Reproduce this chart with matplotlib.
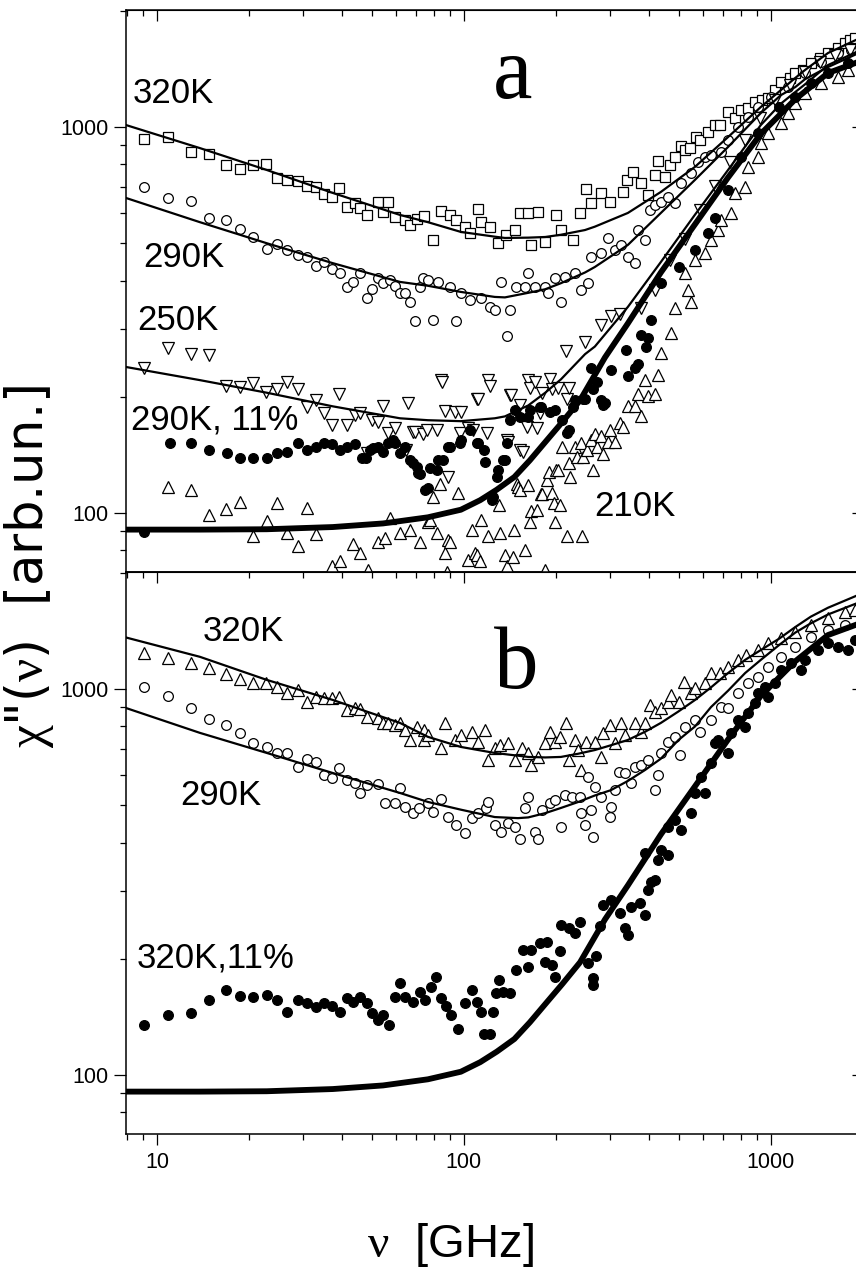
import matplotlib
matplotlib.use('Agg')
import matplotlib.pyplot as plt
from matplotlib.ticker import FixedLocator, NullFormatter, FixedFormatter

plt.rcParams['font.family'] = ['Liberation Sans', 'DejaVu Sans']
plt.rcParams['mathtext.fontset'] = 'custom'
plt.rcParams['mathtext.rm'] = 'Liberation Serif'

# ---------------- Panel a data ----------------
a320_f = [9.07, 10.9, 12.9, 14.8, 16.8, 18.6, 20.5, 22.6, 24.6, 26.5, 28.8, 30.8, 33.0, 35.0, 37.2, 39.2,
          41.6, 44.2, 45.9, 48.3, 52.5, 54.5, 56.5, 59.6, 64.3, 66.7, 70.3, 74.1, 79.3, 84.2, 90.1, 94.2,
          100.8, 104.7, 111, 114, 122, 129, 137, 147, 152, 162, 166, 174, 184, 199, 207, 227, 239, 250,
          259, 279, 299, 330, 340, 356, 377, 398, 419, 428, 452, 469, 487, 509, 525, 545, 570, 588, 624,
          658, 683, 725, 765, 799, 842, 888, 935, 977, 1032, 1078, 1155, 1200, 1275, 1349, 1448, 1534,
          1652, 1747, 1814, 1883]
a320_v = [931, 942, 862, 851, 797, 778, 797, 802, 738, 729, 725, 703, 699, 671, 659, 695,
          621, 636, 617, 592, 640, 603, 640, 585, 575, 557, 578, 589, 510, 606, 592, 575,
          551, 532, 613, 567, 551, 501, 525, 541, 599, 599, 495, 603, 504, 592, 541, 510, 599, 691,
          636, 675, 640, 679, 729, 763, 716, 667, 752, 817, 742, 797, 836, 893, 872, 882, 942, 925, 971,
          1012, 1012, 1093, 1056, 1107, 1120, 1160, 1175, 1190, 1247, 1308, 1340, 1380, 1405, 1464, 1510, 1555,
          1605, 1650, 1679, 1700]

a290_f = [9.07, 10.9, 12.9, 14.8, 16.8, 18.6, 20.5, 22.8, 24.6, 26.5, 28.8, 30.8, 33.0, 35.0, 37.2, 39.4,
          41.6, 43.5, 45.9, 48.3, 50.1, 52.5, 54.5, 57.4, 59.6, 61.9, 64.3, 66.7, 69.3, 71.9, 73.5, 76.3,
          79.3, 82.2, 90.1, 94.2, 97.7, 105, 114, 122, 126, 132, 138, 141, 148, 158, 162, 170, 184, 188,
          198, 207, 213, 230, 241, 254, 259, 279, 294, 311, 325, 342, 361, 369, 389, 404, 419, 438, 462,
          487, 509, 549, 578, 610, 638, 688, 725, 781, 842, 907, 1000, 1136, 1293, 1455, 1652, 1823]
a290_v = [699, 655, 643, 581, 575, 544, 519, 483, 498, 480, 466, 460, 436, 447, 429, 419,
          385, 397, 419, 361, 381, 406, 394, 402, 388, 372, 372, 352, 314, 385, 406, 402,
          316, 397, 385, 314, 372, 357, 361, 342, 336, 397, 288, 336, 385, 385, 419, 385, 385, 372,
          406, 352, 409, 419, 379, 394, 460, 472, 516, 481, 494, 460, 444, 541, 510, 610, 628, 640, 659,
          636, 716, 760, 812, 836, 846, 862, 925, 1000, 1061, 1127, 1196, 1269, 1380, 1473, 1555, 1582]

a250_f = [9.07, 10.9, 12.9, 14.8, 16.8, 18.6, 20.5, 22.6, 24.6, 26.5, 28.8, 30.8, 33.0, 35.0, 37.2, 39.2,
          41.6, 44.2, 45.9, 48.3, 50.1, 52.5, 54.5, 56.5, 59.6, 65, 65.7, 68, 69.3, 73.5, 76, 82, 84, 85,
          86.8, 88.6, 93.5, 97, 98, 103, 107, 110, 111, 119, 120, 122, 138, 139, 141, 142, 152, 152, 156,
          160, 162, 164, 170, 173, 177, 180, 191, 193, 202, 215, 217, 220, 248, 279, 301, 323, 377, 419,
          469, 525, 588, 658, 736, 824, 922, 1032, 1155, 1293, 1448, 1620, 1814]
a250_v = [237, 267, 258, 257, 213, 212, 217, 206, 209, 219, 209, 188, 196, 182, 169, 204,
          169, 179, 182, 143, 174, 172, 189, 161, 166, 146, 193, 162, 162, 160, 164, 164, 221, 218,
          184, 124, 183, 161, 183, 166, 164, 198, 198, 161, 221, 213, 155, 153, 202, 202, 191, 146, 144,
          167, 221, 211, 218, 166, 182, 205, 223, 209, 211, 263, 197, 211, 277, 307, 324, 327, 339, 379,
          453, 513, 610, 703, 812, 925, 1056, 1175, 1285, 1390, 1470, 1540, 1583]

a290w_f = [9.07, 11.0, 12.9, 14.8, 16.9, 18.6, 20.5, 22.8, 24.6, 26.5, 28.8, 30.8, 33.0, 35.0, 37.2, 39.4,
           41.6, 44.2, 46.5, 47.9, 49.4, 50.7, 52.5, 54.5, 56.5, 58.7, 59.6, 61.9, 64.3, 66.7, 68.0, 70.3,
           70.7, 71.9, 74.7, 76.3, 77.5, 81.7, 82.2, 85.5, 88.6, 90.1, 97.1, 97.7, 104.7, 110, 111, 116,
           117, 123, 124, 128, 129, 134, 136, 138, 141, 147, 152, 162, 164, 177, 178, 191, 198, 209, 217,
           220, 227, 230, 245, 248, 259, 263, 271, 279, 284, 288, 301, 337, 342, 361, 369, 377, 391, 398,
           408, 438, 500, 566, 624, 658, 725, 799, 907, 1063, 1200, 1349, 1534, 1787]
a290w_v = [89.5, 152, 152, 146, 143, 139, 139, 139, 143, 144, 152, 146, 148, 152, 151, 146,
           148, 151, 139, 139, 146, 147, 148, 144, 152, 155, 152, 143, 148, 137, 135, 132,
           127, 126, 115, 116, 131, 129, 137, 137, 148, 148, 152, 155, 164, 152, 152, 146,
           136, 108, 110, 124, 129, 137, 137, 152, 174, 185, 177, 177, 185, 188, 188, 183, 185, 174, 161,
           164, 188, 196, 198, 198, 237, 209, 218, 196, 191, 193, 235, 265, 226, 237, 243, 290, 270, 284,
           317, 394, 433, 481, 532, 582, 687, 836, 965, 1127, 1196, 1298, 1380, 1464]

a210_f = [10.9, 12.9, 14.8, 16.8, 18.6, 20.5, 22.8, 24.6, 26.5, 28.8, 30.8, 33.0, 37.2, 39.4, 43.5, 45.9,
          48.6, 52.5, 55.3, 57.4, 61.9, 66.7, 71.9, 76.3, 77.5, 79.3, 81.7, 83.6, 86.8, 88, 88.6, 90.1, 95.6,
          103, 106, 108.7, 110, 113, 114, 120, 130, 131, 136, 138, 144, 146, 149, 150, 152, 158, 162,
          164, 166, 173, 178, 180, 184, 187, 189, 193, 196, 198, 200, 202, 205, 209, 217, 220, 222, 230,
          234, 241, 243, 245, 252, 259, 263, 267, 271, 279, 284, 294, 299, 311, 323, 330, 342, 361, 369,
          377, 389, 398, 419, 428, 438, 474, 487, 525, 535, 549, 566, 610, 638, 672, 688, 743, 765, 824,
          842, 907, 927, 977, 1078, 1136, 1200, 1293, 1455, 1652, 1787]
a210_v = [117, 115, 98.8, 102.5, 107, 87, 95.5, 106, 89, 82, 103, 88, 73, 75, 83, 79,
          71.4, 84, 86, 97, 89, 90.6, 84, 95, 96, 110, 89, 119, 79, 70.5, 85, 84, 113,
          75.8, 90.6, 79, 78, 75, 96, 87, 105, 89, 78, 73, 77, 90.6, 119, 117, 115, 80.4, 118,
          95, 101, 102, 112, 112, 71, 122, 128, 113, 106, 95, 129, 129, 105, 148, 87, 135, 124, 148,
          140, 152, 87, 140, 146, 155, 129, 160, 148, 158, 142, 153, 164, 153, 171, 167, 189, 189, 203,
          178, 221, 201, 203, 228, 260, 293, 340, 418, 379, 352, 453, 471, 510, 541, 575, 599, 675, 700,
          788, 836, 910, 965, 1024, 1085, 1153, 1225, 1298, 1347, 1405]

# fit curves, panel a
fa_f = [7.93, 13.8, 22.8, 37.4, 61.9, 76.3, 97.7, 126, 136, 162, 184, 207, 248, 267, 342, 438, 565,
        725, 927, 1078, 1200, 1291, 1534, 1950]
fa320_v = [1012, 882, 774, 675, 592, 567, 535, 520, 516, 517, 519, 526, 541, 552, 599, 679, 788,
           942, 1127, 1247, 1340, 1405, 1555, 1700]
fa290_v = [655, 567, 500, 444, 397, 388, 374, 363, 362, 372, 380, 394, 420, 434, 495, 599, 729,
           888, 1087, 1210, 1269, 1330, 1430, 1560]
fa250_v = [239, 221, 205, 189, 176, 174, 173, 176, 178, 190, 205, 222, 258, 270, 342, 447, 592,
           774, 1012, 1150, 1232, 1290, 1447, 1580]

# thick model curve (same in both panels)
thick_f = [7.93, 13.8, 22.8, 37.4, 54.5, 76.3, 97.7, 113, 128, 146, 164, 187, 209, 239, 288, 342,
           438, 566, 725, 927, 1200, 1534, 1950]
thick_v = [90.6, 90.6, 90.8, 92, 94, 97.5, 102, 108, 115, 124, 137, 155, 172, 196, 253, 310,
           420, 560, 740, 960, 1180, 1380, 1480]

# ---------------- Panel b data ----------------
b320_f = [9.07, 10.9, 12.9, 14.8, 16.8, 18.6, 20.5, 22.6, 24.6, 26.5, 28.8, 30.8, 33.0, 35.0, 37.2, 39.2,
          41.6, 44.2, 45.9, 48.3, 52.5, 54.5, 56.5, 59.6, 61.9, 64.3, 66.7, 70.3, 74.1, 74.1,
          76.3, 84.3, 86.8, 93.5, 97.7, 106, 111, 117, 120, 126, 131, 139, 147, 155, 162, 166, 174, 184,
          191, 198, 205, 215, 220, 230, 236, 241, 250, 267, 279, 284, 299, 311, 325, 335, 361, 377, 389,
          404, 419, 438, 462, 474, 500, 520, 549, 566, 610, 638, 683, 725, 781, 830, 907, 977, 1078, 1200,
          1349, 1534, 1747, 1883]
b320_v = [1240, 1204, 1168, 1133, 1094, 1062, 1037, 1037, 1012, 976, 994, 925, 955, 949, 949, 955,
          882, 893, 888, 847, 842, 817, 817, 808, 817, 784, 738, 797, 784, 738,
          760, 704, 817, 738, 760, 774, 729, 784, 655, 704, 716, 725, 655, 704, 683, 636, 667, 725,
          774, 729, 752, 817, 655, 738, 695, 617, 729, 729, 667, 770, 808, 725, 817, 760, 817, 774, 817,
          908, 872, 893, 925, 965, 925, 1043, 976, 1006, 1037, 1100, 1100, 1140, 1190, 1226, 1262, 1316, 1353, 1405,
          1464, 1524, 1583, 1600]

b290_f = [9.07, 10.9, 12.9, 14.8, 16.8, 18.6, 20.5, 22.8, 24.6, 26.5, 28.8, 30.8, 33.0, 35.0, 37.2, 39.2,
          41.6, 44.2, 45.9, 48.3, 52.5, 55.3, 59.6, 61.9, 64.3, 68.0, 71.5,
          76.3, 79.3, 84.3, 88.6, 94.2, 100.8, 106, 111, 118, 120, 126, 132, 139, 147, 152, 158, 162, 170,
          174, 180, 191, 198, 207, 213, 225, 239, 241, 248, 254, 259, 263, 267, 279, 299, 301, 311, 321,
          335, 351, 361, 377, 398, 419, 428, 438, 462, 487, 506, 525, 566, 588, 638, 688, 725, 781, 842,
          907, 977, 1078, 1200, 1349, 1534, 1747]
b290_v = [1012, 960, 893, 836, 808, 770, 725, 708, 683, 683, 628, 660, 647, 599, 588, 625,
          581, 571, 538, 564, 567, 507, 507, 554, 495, 478, 492,
          507, 481, 520, 466, 444, 424, 463, 478, 492, 510, 444, 427, 450, 439, 408, 492, 524, 427,
          408, 486, 507, 516, 439, 532, 525, 525, 478, 444, 592, 486, 413, 557, 525, 466, 495, 547, 610,
          606, 571, 628, 636, 655, 547, 599, 683, 729, 752, 675, 797, 831, 774, 831, 898, 893, 976, 1037,
          1074, 1140, 1211, 1285, 1363, 1422, 1464]

b320w_f = [9.07, 10.9, 12.9, 14.8, 16.8, 18.6, 20.5, 22.8, 24.6, 26.5, 28.8, 30.8, 33.0, 35.0, 37.2, 39.4,
           41.6, 43.5, 45.9, 48.3, 50.1, 52.5, 54.5, 57.0, 59.6, 61.9, 64.3, 68.0, 71.9, 74.7,
           78, 81.2, 84.3, 87.5, 90.8, 95.6, 100.8, 106, 110, 114, 116, 122, 124, 127, 130, 134, 141, 148,
           156, 162, 166, 177, 186, 184, 193, 198, 205, 207, 220, 230, 239, 254, 263, 263, 269, 278, 284,
           301, 323, 335, 342, 351, 375, 389, 398, 408, 419, 428, 462, 389, 438, 462, 487, 509, 549, 566,
           610, 593, 638, 658, 672, 725, 743, 781, 824, 842, 888, 907, 958, 977, 1032, 1078, 1164, 1255,
           1293, 1427, 1534, 1652, 1780, 1883]
b320w_v = [134.5, 143, 145, 156.5, 166, 160, 159, 161, 156.5, 146, 156.5, 154, 150, 154, 151, 146,
           158, 155, 159, 154, 145, 139, 143, 134.5, 159, 173, 159, 155, 164, 156.5,
           169, 179, 158, 151, 143, 132, 154, 166, 155, 146, 128, 128, 146, 163, 176, 164, 163, 187,
           211, 190, 211, 220, 221, 196, 193, 179, 209, 245, 241, 234, 249, 195, 178, 171, 203, 243, 276,
           284, 263, 241, 231, 273, 279, 260, 302, 317, 320, 361, 372, 377, 383, 439, 458, 432, 478, 538,
           538, 592, 643, 725, 738, 683, 770, 831, 797, 867, 920, 976, 1012, 955, 1037, 1120, 1168, 1120,
           1190, 1262, 1316, 1285, 1262, 1340]

fb_f = [7.93, 13.8, 22.8, 37.4, 61.9, 76.3, 97.7, 126, 150, 162, 184, 207, 236, 267, 301, 342, 389,
        438, 500, 566, 638, 725, 824, 927, 1063, 1200, 1349, 1534, 1950]
fb320_v = [1360, 1212, 1056, 937, 817, 752, 708, 683, 672, 667, 665, 667, 680, 695, 715, 738, 775,
           817, 875, 937, 1010, 1100, 1190, 1262, 1350, 1447, 1540, 1624, 1760]
fb290_v = [893, 770, 683, 606, 538, 510, 487, 466, 463, 465, 477, 492, 510, 530, 547, 578, 617,
           660, 738, 800, 898, 990, 1100, 1190, 1300, 1400, 1480, 1560, 1680]

# ---------------- figure ----------------
W, H = 856, 1278
fig = plt.figure(figsize=(W / 100, H / 100), dpi=100)
left = 126 / W
width = (862 - 126) / W
axa = fig.add_axes([left, 1 - 572 / H, width, (572 - 10) / H])
axb = fig.add_axes([left, 1 - 1134 / H, width, (1134 - 572) / H])

XMIN, XMAX = 7.93, 1980
YMIN, YMAX = 70.36, 2010

ms_open = 7.0
mew = 0.9
for ax in (axa, axb):
    ax.set_xscale('log')
    ax.set_yscale('log')
    ax.set_xlim(XMIN, XMAX)
    ax.set_ylim(YMIN, YMAX)
    for s in ax.spines.values():
        s.set_linewidth(1.1)

# panel a
axa.plot(a320_f, a320_v, ls='none', marker='s', ms=ms_open, mfc='white', mec='black', mew=mew, zorder=3)
axa.plot(a290_f, a290_v, ls='none', marker='o', ms=ms_open, mfc='white', mec='black', mew=mew, zorder=3)
axa.plot(a250_f, a250_v, ls='none', marker='v', ms=ms_open + 1, mfc='white', mec='black', mew=mew, zorder=3)
axa.plot(a210_f, a210_v, ls='none', marker='^', ms=ms_open + 1, mfc='white', mec='black', mew=mew, zorder=3)
axa.plot(a290w_f, a290w_v, ls='none', marker='o', ms=ms_open, mfc='black', mec='black', mew=mew, zorder=4)
axa.plot(fa_f, fa320_v, color='black', lw=1.6, zorder=5)
axa.plot(fa_f, fa290_v, color='black', lw=1.6, zorder=5)
axa.plot(fa_f, fa250_v, color='black', lw=1.6, zorder=5)
axa.plot(thick_f, thick_v, color='black', lw=4.2, zorder=5, solid_capstyle='butt')

# panel b
axb.plot(b320_f, b320_v, ls='none', marker='^', ms=ms_open + 1, mfc='white', mec='black', mew=mew, zorder=3)
axb.plot(b290_f, b290_v, ls='none', marker='o', ms=ms_open, mfc='white', mec='black', mew=mew, zorder=3)
axb.plot(b320w_f, b320w_v, ls='none', marker='o', ms=ms_open, mfc='black', mec='black', mew=mew, zorder=4)
axb.plot(fb_f, fb320_v, color='black', lw=1.6, zorder=5)
axb.plot(fb_f, fb290_v, color='black', lw=1.6, zorder=5)
axb.plot(thick_f, thick_v, color='black', lw=4.2, zorder=5, solid_capstyle='butt')

ymajor = [100, 1000]
yminor = [80, 90, 200, 300, 400, 500, 600, 700, 800, 900, 2000]
xmajor = [10, 100, 1000]
xminor = [8, 9, 20, 30, 40, 50, 60, 70, 80, 90, 200, 300, 400, 500, 600, 700, 800, 900]

for ax in (axa, axb):
    ax.yaxis.set_major_locator(FixedLocator(ymajor))
    ax.yaxis.set_minor_locator(FixedLocator(yminor))
    ax.yaxis.set_major_formatter(FixedFormatter(['100', '1000']))
    ax.yaxis.set_minor_formatter(NullFormatter())
    ax.xaxis.set_major_locator(FixedLocator(xmajor))
    ax.xaxis.set_minor_locator(FixedLocator(xminor))
    ax.xaxis.set_minor_formatter(NullFormatter())
    ax.tick_params(axis='y', which='major', direction='out', length=8.5, width=0.9,
                   labelsize=15.5, pad=4, left=True, right=False)
    ax.tick_params(axis='y', which='minor', direction='out', length=4.5, width=0.9, left=True, right=False)
    sec = ax.secondary_yaxis('right')
    sec.yaxis.set_major_locator(FixedLocator(ymajor))
    sec.yaxis.set_minor_locator(FixedLocator(yminor))
    sec.tick_params(axis='y', which='major', direction='in', length=7, width=0.9, labelright=False)
    sec.tick_params(axis='y', which='minor', direction='in', length=3.5, width=0.9)
    sec.spines['right'].set_linewidth(1.1)
    sx = ax.secondary_xaxis('top')
    sx.xaxis.set_major_locator(FixedLocator(xmajor))
    sx.xaxis.set_minor_locator(FixedLocator(xminor))
    sx.tick_params(axis='x', which='major', direction='in', length=8, width=0.9, labeltop=False)
    sx.tick_params(axis='x', which='minor', direction='in', length=4, width=0.9)
    sx.xaxis.set_minor_formatter(NullFormatter())

axa.tick_params(axis='x', which='both', bottom=False, labelbottom=False, top=False)
axb.xaxis.set_major_formatter(FixedFormatter(['10', '100', '1000']))
axb.tick_params(axis='x', which='major', direction='out', length=8, width=0.9, labelsize=15.5, pad=5,
                bottom=True, top=False)
axb.tick_params(axis='x', which='minor', direction='out', length=4, width=0.9, bottom=True, top=False)

# annotations
def px(x, y):
    return x / W, 1 - y / H

lab = dict(fontsize=25, color='black', ha='left', va='baseline')
fig.text(*px(133, 103), '320K', **lab)
fig.text(*px(143, 267), '290K', **lab)
fig.text(*px(137, 330), '250K', **lab)
fig.text(*px(131, 430), '290K, 11%', **lab)
fig.text(*px(594, 516), '210K', **lab)
fig.text(*px(203, 641), '320K', **lab)
fig.text(*px(180, 805), '290K', **lab)
fig.text(*px(137, 967), '320K,11%', **lab)
fig.text(*px(493, 98), 'a', fontsize=64, family='Liberation Serif', ha='left', va='baseline')
fig.text(*px(494, 688), 'b', fontsize=64, family='Liberation Serif', ha='left', va='baseline')

fig.text(*px(29.5, 566), r'$\mathrm{\chi}$"($\mathrm{\nu}$)  [arb.un.]', fontsize=37, rotation=90,
         ha='center', va='center', family=['DejaVu Sans'])
fig.text(*px(450, 1245), r'$\mathrm{\nu}$  [GHz]', fontsize=34, ha='center', va='center')

fig.savefig('out.png', dpi=100)
